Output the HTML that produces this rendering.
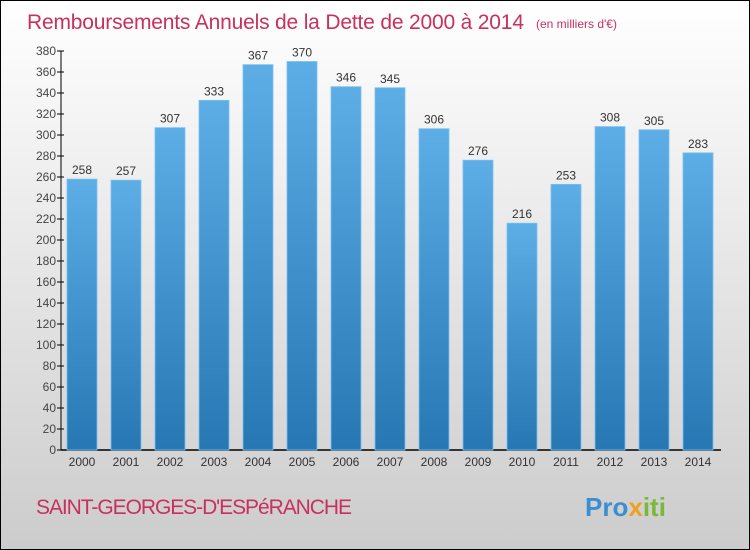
<!DOCTYPE html>
<html><head><meta charset="utf-8"><style>
body{margin:0;}
svg{display:block;font-family:"Liberation Sans",sans-serif;}
</style></head><body>
<svg width="750" height="550" viewBox="0 0 750 550">
<defs>
<linearGradient id="bg" x1="0" y1="0" x2="0" y2="1"><stop offset="0" stop-color="#ffffff"/><stop offset="1" stop-color="#cccccc"/></linearGradient>
<linearGradient id="bar" x1="0" y1="0" x2="0" y2="1"><stop offset="0" stop-color="#5dade6"/><stop offset="1" stop-color="#2677b3"/></linearGradient>
</defs>
<rect x="0.5" y="0.5" width="749" height="549" fill="url(#bg)" stroke="#000"/>
<text x="27" y="29" font-size="21" fill="#c8305e" textLength="497">Remboursements Annuels de la Dette de 2000 à 2014</text>
<text x="536" y="28" font-size="12" fill="#c8305e">(en milliers d'€)</text>
<g id="axes"></g>
<g id="bars"></g>
<text x="36" y="514" font-size="21" fill="#c8305e" textLength="316">SAINT-GEORGES-D'ESPéRANCHE</text>
<text x="585" y="516" font-size="26" font-weight="bold"><tspan fill="#3a8fd0">Pro</tspan><tspan fill="#f0a020">x</tspan><tspan fill="#7ab83a">iti</tspan></text>
</svg>
<script>
const years=["2000","2001","2002","2003","2004","2005","2006","2007","2008","2009","2010","2011","2012","2013","2014"];
const values=[258,257,307,333,367,370,346,345,306,276,216,253,308,305,283];
const ticks=[0,20,40,60,80,100,120,140,160,180,200,220,240,260,280,300,320,340,360,380];
const NS="http://www.w3.org/2000/svg";
const x0=61,pitch=44,y0=450,yTop=51,ymax=380;
const y=v=>y0-(v/ymax)*(y0-yTop);
const xs=i=>x0+6+pitch*i;
function mk(t,a,p){const e=document.createElementNS(NS,t);for(const k in a)e.setAttribute(k,a[k]);p.appendChild(e);return e;}
const ax=document.getElementById('axes'),bg=document.getElementById('bars');
let l=mk('line',{x1:x0,y1:yTop,x2:x0,y2:y0,stroke:'#000'},ax);


l=mk('line',{x1:x0,y1:y0,x2:x0+pitch*15,y2:y0,stroke:'#000','stroke-width':1.5},ax);


ticks.forEach(t=>{
  mk('line',{x1:x0-4,y1:y(t),x2:x0+3,y2:y(t),stroke:'#000'},ax);
  const tx=mk('text',{x:x0-5,y:y(t)+4,'font-size':12,'text-anchor':'end',fill:'#444'},ax);
  tx.textContent=t;
  
  
});
values.forEach((v,i)=>{
  const r=mk('rect',{x:xs(i),y:y(v),width:30,height:y0-y(v),fill:'url(#bar)',stroke:'#7cc0ee','stroke-width':0.8},bg);
  
  
  const vt=mk('text',{x:xs(i)+15,y:y(v)-5,'font-size':12,'text-anchor':'middle',fill:'#333'},bg);
  vt.textContent=v;
  
  
  const yt=mk('text',{x:xs(i)+15,y:466,'font-size':12,'text-anchor':'middle',fill:'#333'},bg);
  yt.textContent=years[i];
  
  
});
</script>
</body></html>
